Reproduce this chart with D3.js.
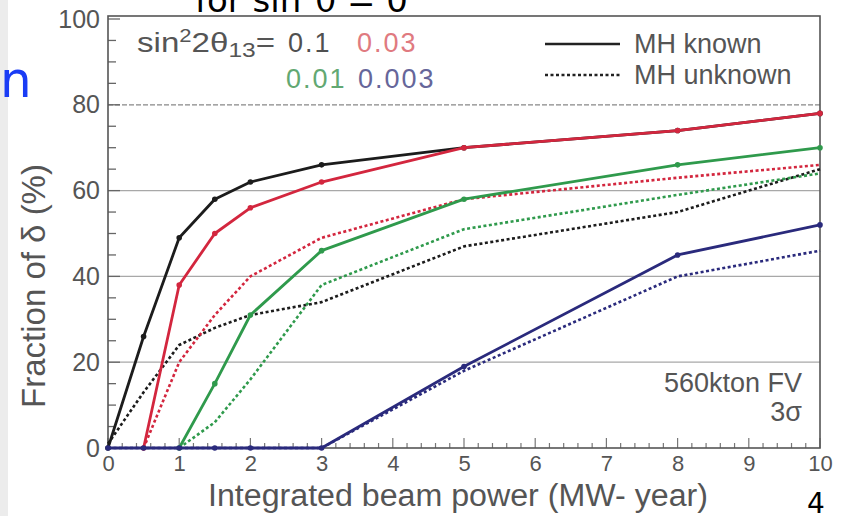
<!DOCTYPE html>
<html>
<head>
<meta charset="utf-8">
<script src="https://cdn.jsdelivr.net/npm/d3@7"></script>
<style>
  html, body { margin: 0; padding: 0; background: #fff; }
  svg { display: block; }
</style>
</head>
<body>
<svg id="chart" width="846" height="516"></svg>
<script>
// ---- data ----
const xValues = [0, 0.5, 1, 1.5, 2, 3, 5, 8, 10];
const knownBlack = [0, 26, 49, 58, 62, 66, 70, 74, 78];
const knownRed   = [null, 0, 38, 50, 56, 62, 70, 74, 78];
const knownGreen = [null, null, 0, 15, 31, 46, 58, 66, 70];
const knownBlue  = [0, 0, 0, 0, 0, 0, 19, 45, 52];
const unknownBlack = [1, 13, 24, 28, 31, 34, 47, 55, 65];
const unknownRed   = [null, 0, 20, 31, 40, 49, 58, 63, 66];
const unknownGreen = [null, null, 0, 6, 16, 38, 51, 59, 64];
const unknownBlue  = [0, 0, 0, 0, 0, 0, 18, 40, 46];
const xTicks = [0, 1, 2, 3, 4, 5, 6, 7, 8, 9, 10];
const yTicks = [0, 20, 40, 60, 80, 100];
const gridValues = [20, 40, 60, 80];
const thetaLabels = ["0.1", "0.03", "0.01", "0.003"];
const legendLabels = ["MH known", "MH unknown"];

// ---- layout ----
const svg = d3.select("#chart");
const L = 108, R = 820, T = 19, B = 448;
const x = d3.scaleLinear().domain([0, 10]).range([L, R]);
const y = d3.scaleLinear().domain([0, 100]).range([B, T]);
const FONT = "'Liberation Sans', Arial, Helvetica, sans-serif";
const colors = { black: "#1c1c1c", red: "#d3263e", green: "#2f9a4c", blue: "#2a2a7c" };

// left gray strip of the slide
svg.append("rect").attr("x", 0).attr("y", 0).attr("width", 8).attr("height", 516).attr("fill", "#ececec");

// slide title fragment (clipped at the top, as in the slide)
const title = svg.append("text").attr("x", 195).attr("y", 12)
  .attr("font-family", "'DejaVu Sans', sans-serif").attr("font-size", 34).attr("fill", "#000");
title.append("tspan").text("for sin");
title.append("tspan").attr("font-size", 22).attr("dy", -15).text("2");
title.append("tspan").attr("dy", 15).text("θ = 0");

// blue letter at left
svg.append("text").attr("x", 0).attr("y", 97).attr("font-family", "'DejaVu Sans', sans-serif")
  .attr("font-size", 50).attr("fill", "#1a3cf5").text("n");

// slide number
svg.append("text").attr("x", 807).attr("y", 513).attr("font-family", "'DejaVu Sans', sans-serif")
  .attr("font-size", 28).attr("fill", "#000").text("4");

// gridlines
svg.append("g").selectAll("line").data(gridValues).join("line")
  .attr("x1", L).attr("x2", R).attr("y1", d => y(d)).attr("y2", d => y(d))
  .attr("stroke", d => d === 80 ? "#888" : "#a8a8a8")
  .attr("stroke-width", 1.3)
  .attr("stroke-dasharray", d => d === 80 ? "5,2" : null);

// axes
const xAxis = d3.axisBottom(x).tickValues(xTicks).tickSize(0).tickPadding(7).tickFormat(d3.format("d"));
const gx = svg.append("g").attr("transform", `translate(0,${B})`).call(xAxis);
gx.select(".domain").remove();
gx.selectAll("text").attr("font-family", FONT).attr("font-size", 22).attr("fill", "#555");

const yAxis = d3.axisLeft(y).tickValues(yTicks).tickSize(0).tickPadding(8).tickFormat(d3.format("d"));
const gy = svg.append("g").attr("transform", `translate(${L},0)`).call(yAxis);
gy.select(".domain").remove();
gy.selectAll("text").attr("font-family", FONT).attr("font-size", 25).attr("fill", "#555");

// inward ticks
const yMinor = d3.range(0, 101, 5);
svg.append("g").selectAll("line").data(yMinor).join("line")
  .attr("x1", L).attr("x2", d => L + (d % 20 === 0 ? 12 : 8))
  .attr("y1", d => y(d)).attr("y2", d => y(d))
  .attr("stroke", "#666").attr("stroke-width", 1.3);
const xMinor = d3.range(0, 10.01, 0.2);
svg.append("g").selectAll("line").data(xMinor).join("line")
  .attr("x1", d => x(d)).attr("x2", d => x(d))
  .attr("y1", B).attr("y2", d => B - (Math.abs(d - Math.round(d)) < 1e-6 ? 10 : 5))
  .attr("stroke", "#777").attr("stroke-width", 1.2);

// frame
svg.append("rect").attr("x", L).attr("y", T - 3).attr("width", R - L).attr("height", B - T + 3)
  .attr("fill", "none").attr("stroke", "#555").attr("stroke-width", 1.6);

// axis titles
svg.append("text").attr("x", 458).attr("y", 506).attr("text-anchor", "middle")
  .attr("font-family", FONT).attr("font-size", 31).attr("fill", "#555")
  .attr("textLength", 500).attr("lengthAdjust", "spacingAndGlyphs")
  .text("Integrated beam power (MW- year)");
svg.append("text").attr("transform", "translate(45,286) rotate(-90)").attr("text-anchor", "middle")
  .attr("font-family", FONT).attr("font-size", 33).attr("fill", "#555")
  .text("Fraction of δ (%)");

// series
const series = [
  { vals: unknownBlack, color: colors.black, dashed: true },
  { vals: unknownRed, color: colors.red, dashed: true },
  { vals: unknownGreen, color: colors.green, dashed: true },
  { vals: unknownBlue, color: colors.blue, dashed: true },
  { vals: knownGreen, color: colors.green, dashed: false },
  { vals: knownBlack, color: colors.black, dashed: false },
  { vals: knownRed, color: colors.red, dashed: false },
  { vals: knownBlue, color: colors.blue, dashed: false }
];
const line = d3.line().defined(d => d[1] !== null).x(d => x(d[0])).y(d => y(d[1]));
series.forEach(s => {
  const pts = xValues.map((xv, i) => [xv, s.vals[i]]);
  svg.append("path").datum(pts).attr("d", line)
    .attr("fill", "none").attr("stroke", s.color)
    .attr("stroke-width", s.dashed ? 2.6 : 2.8)
    .attr("stroke-dasharray", s.dashed ? "3,2.5" : null)
    .attr("stroke-linejoin", "round");
  if (!s.dashed) {
    svg.append("g").selectAll("circle").data(pts.filter(d => d[1] !== null)).join("circle")
      .attr("cx", d => x(d[0])).attr("cy", d => y(d[1])).attr("r", 2.8).attr("fill", s.color);
  }
});

// in-plot legend: theta values
const t1 = svg.append("text").attr("x", 137).attr("y", 52).attr("font-family", FONT)
  .attr("font-size", 27).attr("fill", "#555")
  .attr("textLength", 138).attr("lengthAdjust", "spacingAndGlyphs");
t1.append("tspan").text("sin");
t1.append("tspan").attr("font-size", 18).attr("dy", -10).text("2");
t1.append("tspan").attr("dy", 10).text("2θ");
t1.append("tspan").attr("font-size", 20).attr("dy", 5).text("13");
t1.append("tspan").attr("dy", -5).text("=");
const thetaPos = [
  { x: 288, y: 52, c: "#505050" }, { x: 357, y: 52, c: "#e07a80" },
  { x: 286, y: 88, c: "#62a872" }, { x: 358, y: 88, c: "#66669a" }
];
svg.append("g").selectAll("text").data(thetaLabels).join("text")
  .attr("x", (d, i) => thetaPos[i].x).attr("y", (d, i) => thetaPos[i].y)
  .attr("font-family", FONT).attr("font-size", 27).attr("letter-spacing", 2)
  .attr("fill", (d, i) => thetaPos[i].c).text(d => d);

// in-plot legend: line styles
const lg = svg.append("g");
legendLabels.forEach((lab, i) => {
  const ly = 44 + i * 31;
  lg.append("line").attr("x1", 545).attr("x2", 620).attr("y1", ly).attr("y2", ly)
    .attr("stroke", "#222").attr("stroke-width", 2.4)
    .attr("stroke-dasharray", i === 1 ? "3,2.5" : null);
  lg.append("text").attr("x", 634).attr("y", ly + 9).attr("font-family", FONT)
    .attr("font-size", 27).attr("fill", "#555").text(lab);
});

// annotation
svg.append("text").attr("x", 802).attr("y", 392).attr("text-anchor", "end")
  .attr("font-family", FONT).attr("font-size", 27).attr("fill", "#555").text("560kton FV");
svg.append("text").attr("x", 802).attr("y", 421).attr("text-anchor", "end")
  .attr("font-family", FONT).attr("font-size", 27).attr("fill", "#555").text("3σ");
</script>
</body>
</html>
